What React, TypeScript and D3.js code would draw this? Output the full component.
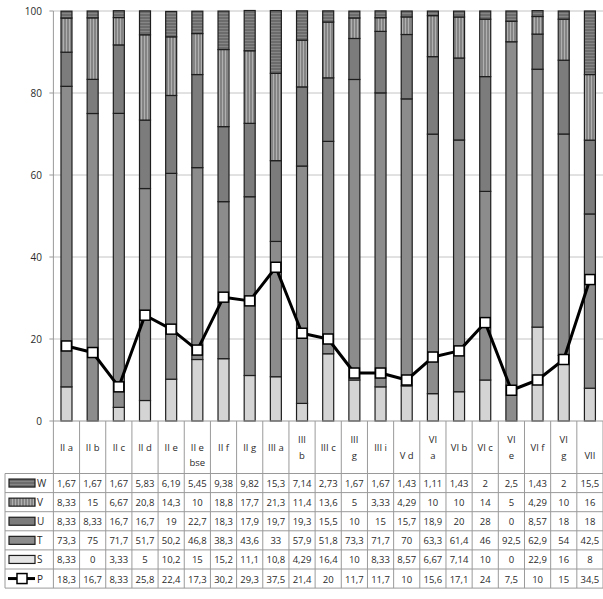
import React from "react";
import * as d3 from "d3";

const categories = ["II a","II b","II c","II d","II e","II e bse","II f","II g","III a","III b","III c","III g","III i","V d","VI a","VI b","VI c","VI e","VI f","VI g","VII"];
const headerLines: string[][] = [["II a"],["II b"],["II c"],["II d"],["II e"],["II e","bse"],["II f"],["II g"],["III a"],["III","b"],["III c"],["III","g"],["III i"],["V d"],["VI","a"],["VI b"],["VI c"],["VI","e"],["VI f"],["VI","g"],["VII"]];
const W = [1.67,1.67,1.67,5.83,6.19,5.45,9.38,9.82,15.3,7.14,2.73,1.67,1.67,1.43,1.11,1.43,2,2.5,1.43,2,15.5];
const V = [8.33,15,6.67,20.8,14.3,10,18.8,17.7,21.3,11.4,13.6,5,3.33,4.29,10,10,14,5,4.29,10,16];
const U = [8.33,8.33,16.7,16.7,19,22.7,18.3,17.9,19.7,19.3,15.5,10,15,15.7,18.9,20,28,0,8.57,18,18];
const T = [73.3,75,71.7,51.7,50.2,46.8,38.3,43.6,33,57.9,51.8,73.3,71.7,70,63.3,61.4,46,92.5,62.9,54,42.5];
const S = [8.33,0,3.33,5,10.2,15,15.2,11.1,10.8,4.29,16.4,10,8.33,8.57,6.67,7.14,10,0,22.9,16,8];
const P = [18.3,16.7,8.33,25.8,22.4,17.3,30.2,29.3,37.5,21.4,20,11.7,11.7,10,15.6,17.1,24,7.5,10,15,34.5];
const yTicks = [0,20,40,60,80,100];

const stackOrder = [
  { key: "S", values: S, fill: "#d4d4d4" },
  { key: "T", values: T, fill: "#8c8c8c" },
  { key: "U", values: U, fill: "#7c7c7c" },
  { key: "V", values: V, fill: "url(#patV)" },
  { key: "W", values: W, fill: "url(#patW)" },
];
const tableRows = [
  { key: "W", values: W, fill: "url(#patW)" },
  { key: "V", values: V, fill: "url(#patV)" },
  { key: "U", values: U, fill: "#7c7c7c" },
  { key: "T", values: T, fill: "#8c8c8c" },
  { key: "S", values: S, fill: "#e4e4e4" },
];

const fmt = (v: number) => String(v).replace(".", ",");

export default function App() {
  const width = 603, height = 599;
  const x0 = 53.4, x1 = 603;
  const yTop = 11, yBot = 421;
  const x = d3.scaleBand<string>().domain(categories).range([x0, x1]).paddingInner(0).paddingOuter(0);
  const y = d3.scaleLinear().domain([0, 100]).range([yBot, yTop]);
  const bw = 11;
  const rowTop = 473.5, rowH = 19.1;
  const allRows = tableRows.length + 1;
  const tableBottom = rowTop + rowH * allRows;

  const stacks = categories.map((c, i) => {
    let acc = 0;
    return stackOrder.map((s) => {
      const a = acc; acc += s.values[i];
      return { key: s.key, fill: s.fill, y0: a, y1: acc };
    });
  });

  const line = d3.line<number>().x((_, i) => x(categories[i])! + x.bandwidth() / 2).y((d) => y(d));
  const font = "'Open Sans', 'Liberation Sans', sans-serif";
  const txt = "#2a2a2a";

  return (
    <svg width={width} height={height} style={{ position: "absolute", left: 0, top: 0, background: "#fff" }} fontFamily={font}>
      <defs>
        <pattern id="patV" width="3" height="4" patternUnits="userSpaceOnUse">
          <rect width="3" height="4" fill="#848484" />
          <rect x="0" width="1" height="4" fill="#b0b0b0" />
        </pattern>
        <pattern id="patW" width="4" height="3" patternUnits="userSpaceOnUse">
          <rect width="4" height="3" fill="#6c6c6c" />
          <rect y="1" width="4" height="0.8" fill="#8c8c8c" />
        </pattern>
      </defs>
      {yTicks.filter((t) => t > 0).map((t) => (
        <line key={t} x1={x0} x2={x1} y1={y(t)} y2={y(t)} stroke="#c4c4c4" strokeWidth={1} />
      ))}
      <line x1={x0} x2={x0} y1={yTop} y2={tableBottom} stroke="#9a9a9a" />
      {yTicks.map((t) => (
        <g key={t}>
          <line x1={x0 - 4} x2={x0} y1={y(t)} y2={y(t)} stroke="#9a9a9a" />
          <text x={42} y={y(t) + 3.5} textAnchor="end" fontSize={10} fill={txt}>{t}</text>
        </g>
      ))}
      {stacks.map((st, i) => {
        const cx = x(categories[i])! + x.bandwidth() / 2;
        return (
          <g key={i}>
            {st.filter((s) => s.y1 - s.y0 > 0).map((s) => (
              <rect key={s.key} x={cx - bw / 2} width={bw} y={y(s.y1)} height={y(s.y0) - y(s.y1)} fill={s.fill} stroke="#1e1e1e" strokeWidth={1.2} />
            ))}
          </g>
        );
      })}
      <path d={line(P) || ""} fill="none" stroke="#000" strokeWidth={3} strokeLinejoin="round" />
      {P.map((v, i) => (
        <rect key={i} x={x(categories[i])! + x.bandwidth() / 2 - 5} y={y(v) - 5} width={10} height={10} fill="#fff" stroke="#000" strokeWidth={1.5} />
      ))}
      <line x1={x0} x2={x1} y1={yBot} y2={yBot} stroke="#9a9a9a" />
      {categories.map((c) => {
        const bx = x(c)!;
        return <line key={c} x1={bx + x.bandwidth()} x2={bx + x.bandwidth()} y1={yBot} y2={tableBottom} stroke="#9a9a9a" />;
      })}
      <line x1={5} x2={5} y1={rowTop} y2={tableBottom} stroke="#9a9a9a" />
      {d3.range(allRows + 1).map((r) => (
        <line key={r} x1={5} x2={x1} y1={rowTop + r * rowH} y2={rowTop + r * rowH} stroke="#9a9a9a" />
      ))}
      {headerLines.map((ls, i) => {
        const cx = x(categories[i])! + x.bandwidth() / 2;
        const ys = ls.length === 1
          ? (categories[i] === "V d" || categories[i] === "VII" ? [455] : [447])
          : (categories[i] === "II e bse" ? [447, 462] : [439, 455]);
        return ls.map((l, k) => (
          <text key={i + "-" + k} x={cx} y={ys[k] + 3.5} textAnchor="middle" fontSize={9.5} fill={txt}>{l}</text>
        ));
      })}
      {tableRows.map((row, r) => {
        const ry = rowTop + r * rowH;
        return (
          <g key={row.key}>
            <rect x={9} y={ry + rowH / 2 - 4} width={26} height={8} fill={row.fill} stroke="#1e1e1e" strokeWidth={1.2} />
            <text x={37} y={ry + rowH / 2 + 4} fontSize={10} fill={txt}>{row.key}</text>
            {row.values.map((v, i) => (
              <text key={i} x={x(categories[i])! + x.bandwidth() / 2} y={ry + rowH / 2 + 4} textAnchor="middle" fontSize={9.5} fill={txt}>{fmt(v)}</text>
            ))}
          </g>
        );
      })}
      {(() => {
        const ry = rowTop + tableRows.length * rowH;
        const cy = ry + rowH / 2;
        return (
          <g>
            <line x1={8} x2={35} y1={cy} y2={cy} stroke="#000" strokeWidth={3} />
            <rect x={17} y={cy - 5} width={10} height={10} fill="#fff" stroke="#000" strokeWidth={1.5} />
            <text x={37} y={cy + 4} fontSize={10} fill={txt}>P</text>
            {P.map((v, i) => (
              <text key={i} x={x(categories[i])! + x.bandwidth() / 2} y={cy + 4} textAnchor="middle" fontSize={9.5} fill={txt}>{fmt(v)}</text>
            ))}
          </g>
        );
      })()}
    </svg>
  );
}
